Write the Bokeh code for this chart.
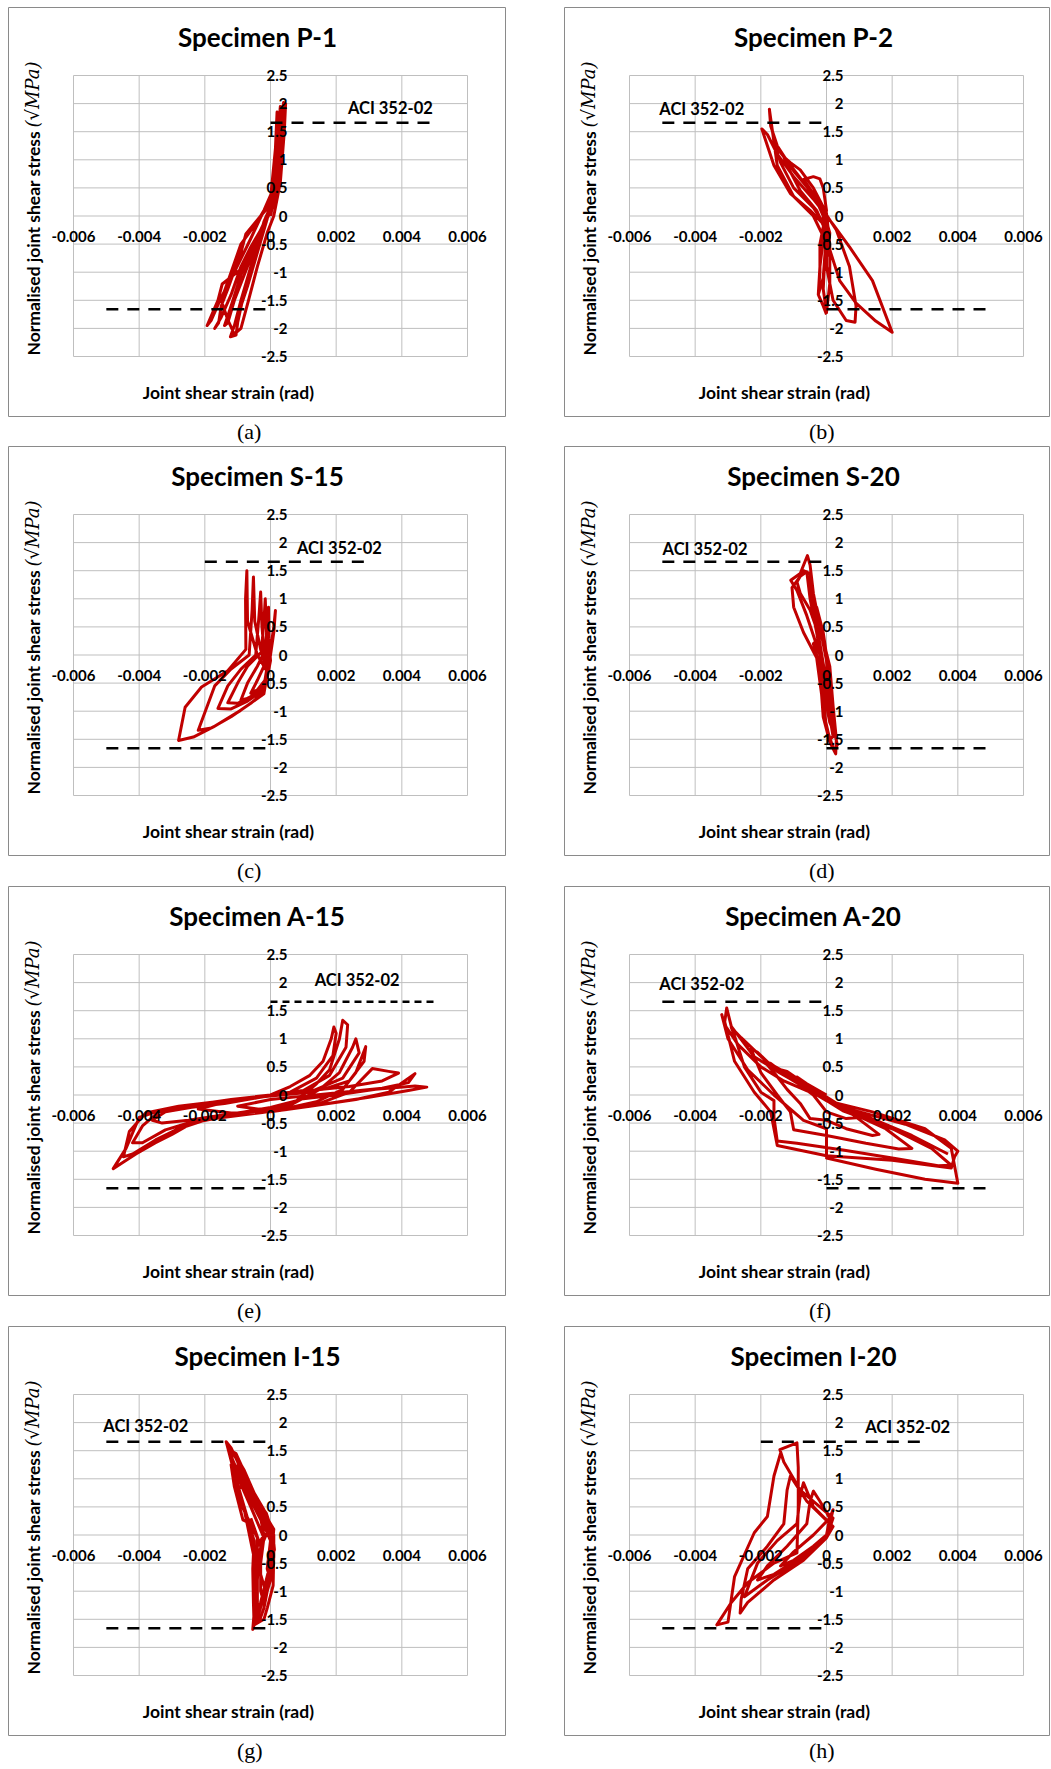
from bokeh.plotting import figure
from bokeh.models import FixedTicker, Label, Div, Spacer
from bokeh.layouts import row, column
from bokeh.embed import file_html
from bokeh.resources import INLINE

# ---------------- axis ticks ----------------
x_ticks = [-0.006, -0.004, -0.002, 0, 0.002, 0.004, 0.006]
x_tick_labels = ["-0.006", "-0.004", "-0.002", "0", "0.002", "0.004", "0.006"]
y_ticks = [-2.5, -2, -1.5, -1, -0.5, 0, 0.5, 1, 1.5, 2, 2.5]
y_tick_labels = ["-2.5", "-2", "-1.5", "-1", "-0.5", "0", "0.5", "1", "1.5", "2", "2.5"]

specimens = ["P-1", "P-2", "S-15", "S-20", "A-15", "A-20", "I-15", "I-20"]
captions = ["(a)", "(b)", "(c)", "(d)", "(e)", "(f)", "(g)", "(h)"]

aci_limit = 1.66          # ACI 352-02 normalised limit
aci_text = "ACI 352-02"
# extents [start, end] of the upper (+) and lower (-) ACI lines
aci_upper_x = [[0, 0.005], [-0.005, 0], [-0.002, 0.003], [-0.005, 0],
               [0, 0.005], [-0.005, 0], [-0.005, 0], [-0.002, 0.003]]
aci_lower_x = [[-0.005, 0], [0, 0.005], [-0.005, 0], [0, 0.005],
               [-0.005, 0], [0, 0.005], [-0.005, 0], [-0.005, 0]]
aci_label_x = [0.00365, -0.0038, 0.0021, -0.0037, 0.00264, -0.0038, -0.0038, 0.00247]
aci_label_y = [1.92, 1.90, 1.90, 1.88, 2.04, 1.97, 1.94, 1.93]

# ---------------- hysteresis data (strain rad, normalised stress) ----------------
p1_loops = [
    (0, 0), (0.00008, 0.45), (0.00012, 0.75), (0.00006, 0.4), (-0.0001, 0.0), (-0.00035, -0.55),
    (-0.0005, -0.85), (-0.0004, -0.6), (-0.0002, -0.15), (0.0, 0.15),
    (0.00012, 0.7), (0.0002, 1.2), (0.00024, 1.45), (0.00018, 1.05), (0.0001, 0.5), (-0.0001, -0.05),
    (-0.0004, -0.65), (-0.0007, -1.25), (-0.0009, -1.6), (-0.0008, -1.4), (-0.0006, -0.95),
    (-0.0003, -0.35), (0.0, 0.2),
    (0.00018, 1.0), (0.00025, 1.6), (0.0003, 1.95), (0.00032, 1.7), (0.00025, 1.1), (0.0001, 0.3),
    (-0.0003, -0.3), (-0.0006, -0.9), (-0.0009, -1.5), (-0.0011, -1.95), (-0.00122, -2.15),
    (-0.00105, -2.12), (-0.001, -1.9), (-0.0008, -1.35), (-0.0005, -0.75), (-0.0002, -0.1), (0.0001, 0.3),
    (0.0002, 1.1), (0.00035, 1.8), (0.0004, 2.02), (0.00045, 1.95), (0.0004, 1.5), (0.00032, 0.9),
    (0.0002, 0.3), (-0.0002, -0.15), (-0.0006, -0.55), (-0.0009, -0.9), (-0.0012, -1.4),
    (-0.0015, -1.8), (-0.0017, -2.0), (-0.00158, -1.9), (-0.0015, -1.6), (-0.0013, -1.3),
    (-0.0009, -0.65), (-0.00075, -0.32), (-0.0003, 0.0), (0.0, 0.2),
    (0.0002, 0.9), (0.0003, 1.6), (0.00035, 1.9), (0.00042, 1.85), (0.0003, 1.0), (0.0001, 0.2),
    (-0.0004, -0.4), (-0.0008, -0.9), (-0.00147, -1.21), (-0.0016, -1.5), (-0.00193, -1.95),
    (-0.0018, -1.85), (-0.0015, -1.45), (-0.0011, -1.0), (-0.0006, -0.4), (-0.0002, 0.1),
    (0.0001, 0.5), (0.00022, 1.3), (0.00028, 1.75), (0.00038, 1.9), (0.00036, 1.4), (0.00028, 0.8),
    (0.00015, 0.35), (-0.0001, 0.0), (-0.0005, -0.5), (-0.0009, -1.05), (-0.0012, -1.6), (-0.0014, -1.95),
    (-0.0013, -1.9), (-0.0011, -1.5), (-0.0007, -0.9), (-0.0004, -0.45), (0.0, 0.1),
    (0.0001, 0.3), (0.0002, 1.0), (0.0003, 1.7), (0.00046, 2.0), (0.00042, 1.5), (0.0003, 0.6),
    (0.0001, 0.0), (-0.0001, -0.3), (-0.0004, -0.9), (-0.00067, -1.5), (-0.0009, -2.0), (-0.0011, -2.1),
    (-0.0013, -1.85), (-0.0015, -1.5), (-0.0012, -1.0), (-0.0009, -0.5), (-0.0004, -0.1), (0.0, 0.3),
    (0.00015, 1.2), (0.0002, 1.85), (0.0003, 1.5), (0.00025, 0.7), (0.0, 0.0),
]

p2_loops = [
    (0, 0), (-0.0003, 0.3), (-0.0006, 0.55), (-0.0004, 0.4), (-0.0001, 0.1), (0.0001, -0.3),
    (0.00005, -0.7), (0.0, -0.4), (-0.0001, 0.0),
    (-0.0004, 0.4), (-0.0007, 0.65), (-0.0004, 0.7), (-0.0002, 0.66), (-0.0001, 0.5), (0.0, 0.1),
    (-0.0002, -0.5), (-0.0002, -1.0), (-0.00025, -1.4), (-0.0001, -1.1), (0.0, -0.3), (-0.0003, 0.1),
    (-0.0008, 0.45), (-0.0012, 0.9), (-0.0013, 1.05), (-0.0011, 0.95), (-0.0008, 0.82), (-0.0004, 0.5),
    (0.0, 0.05), (0.0001, -0.5), (0.0001, -1.2), (0.0, -1.72), (-0.0001, -1.3), (0.0, -0.2), (-0.0004, 0.15),
    (-0.001, 0.5), (-0.0014, 0.95), (-0.0016, 1.3), (-0.0015, 1.2), (-0.0012, 0.98), (-0.0007, 0.6),
    (-0.0002, 0.2), (0.0003, -0.25), (0.0007, -0.9), (0.0009, -1.6), (0.00087, -1.89), (0.0006, -1.86),
    (0.0002, -1.5), (0.0, -0.9), (0.0, -0.2), (-0.0005, 0.1),
    (-0.0011, 0.4), (-0.0016, 0.9), (-0.00197, 1.55), (-0.0018, 1.45), (-0.0015, 1.1), (-0.001, 0.7),
    (-0.0004, 0.3), (0.0002, -0.15), (0.0007, -0.55), (0.0014, -1.15), (0.002, -2.07), (0.0015, -1.87),
    (0.0009, -1.55), (0.0004, -1.15), (0.0001, -0.6), (-0.0004, 0.0),
    (-0.001, 0.35), (-0.0015, 0.9), (-0.00174, 1.9), (-0.0017, 1.6), (-0.0015, 1.25), (-0.001, 0.8),
    (-0.0005, 0.45), (0.0, 0.05), (-0.0002, -0.9), (-0.00025, -1.4), (-0.0001, -1.6), (0.0, -1.75),
]

s15_loops = [
    (0, 0), (0.0001, 0.4), (0.00015, 0.79), (0.0001, 0.5), (0.0, 0.1), (-0.0002, -0.2), (-0.0004, -0.45),
    (-0.0006, -0.68), (-0.0004, -0.62), (-0.0001, -0.4), (0.0, -0.1),
    (-0.00005, 0.3), (-0.00006, 0.85), (-0.0001, 0.6), (-0.00015, 0.1), (-0.0004, -0.2), (-0.0007, -0.5),
    (-0.0009, -0.8), (-0.0006, -0.76), (-0.0003, -0.62), (-0.0001, -0.35), (-0.0001, 0.0),
    (-0.00012, 0.4), (-0.00016, 1.0), (-0.0002, 0.6), (-0.00028, 0.05), (-0.0007, -0.2), (-0.001, -0.5),
    (-0.0013, -0.85), (-0.001, -0.86), (-0.0006, -0.74), (-0.0002, -0.56), (-0.0001, -0.2), (-0.0002, 0.1),
    (-0.00026, 0.5), (-0.0003, 1.12), (-0.00035, 0.7), (-0.00045, 0.0), (-0.0009, -0.25), (-0.0013, -0.55),
    (-0.0016, -0.95), (-0.0012, -0.96), (-0.0007, -0.82), (-0.0002, -0.62), (-0.0001, -0.3), (-0.0003, 0.1),
    (-0.00048, 0.6), (-0.00052, 1.39), (-0.00056, 0.8), (-0.00065, 0.0), (-0.0012, -0.25), (-0.0017, -0.55),
    (-0.0022, -1.34), (-0.0018, -1.3), (-0.0012, -1.1), (-0.0006, -0.86), (-0.0002, -0.66), (-0.0001, -0.3),
    (-0.0004, 0.0),
    (-0.0007, 0.6), (-0.00072, 1.5), (-0.00076, 1.0), (-0.00075, 0.1), (-0.0013, -0.28), (-0.0021, -0.57),
    (-0.0026, -0.93), (-0.0028, -1.52), (-0.00235, -1.46), (-0.00174, -1.28), (-0.00092, -0.99),
    (-0.0002, -0.69), (-0.0001, -0.34), (0.0, 0.0),
]

s20_loops = [
    (0, 0), (-0.0002, 0.5), (-0.0003, 0.85), (-0.0001, 0.4), (0.0, 0.0), (0.0001, -0.5), (0.00015, -0.9),
    (0.00005, -0.6), (0.0, -0.1),
    (-0.0002, 0.5), (-0.0004, 1.0), (-0.0005, 1.25), (-0.0004, 1.1), (-0.0002, 0.5), (0.0, -0.1),
    (0.0001, -0.7), (0.0002, -1.2), (0.00025, -1.4), (0.0001, -1.2), (-0.0001, -0.6), (-0.0002, 0.0),
    (-0.0006, 0.7), (-0.0009, 1.15), (-0.00109, 1.33), (-0.0008, 1.45), (-0.00058, 1.77), (-0.0005, 1.6),
    (-0.0004, 1.1), (-0.0002, 0.5), (0.0001, -0.2), (0.0002, -0.9), (0.0003, -1.5), (0.00028, -1.76),
    (0.0001, -1.55), (-0.0001, -1.1), (-0.00015, -0.7), (-0.0003, -0.05),
    (-0.0007, 0.4), (-0.001, 0.85), (-0.00105, 1.2), (-0.0008, 1.4), (-0.0006, 1.48), (-0.0005, 1.0),
    (-0.0003, 0.4), (-0.0001, -0.3), (0.0001, -1.0), (0.00033, -1.6), (0.00023, -1.7), (0.0, -1.3),
    (-0.0001, -0.8), (-0.0002, -0.2), (-0.0004, 0.2),
    (-0.0002, 0.3), (-0.0005, 0.8), (-0.0008, 1.1), (-0.0009, 1.3), (-0.0007, 1.5), (-0.0005, 1.45),
    (-0.0004, 0.9), (-0.0002, 0.2), (0.0, -0.5), (0.0001, -1.1), (0.0002, -1.45), (0.0001, -1.5),
    (-0.0001, -1.0), (-0.0002, -0.4),
]

a15_loops = [
    (0, 0), (0.0006, 0.15), (0.0012, 0.35), (0.0016, 0.6), (0.00185, 1.0), (0.00193, 1.21), (0.002, 1.1),
    (0.0019, 0.7), (0.0014, 0.3), (0.0006, 0.05), (-0.0004, -0.05), (-0.0014, -0.15), (-0.0024, -0.22),
    (-0.0032, -0.3), (-0.0036, -0.45), (-0.0033, -0.5), (-0.0025, -0.45), (-0.0017, -0.38),
    (-0.0008, -0.3), (0.0, -0.22), (0.0008, -0.1),
    (0.0014, 0.2), (0.0018, 0.45), (0.0021, 1.0), (0.0022, 1.33), (0.00235, 1.25), (0.0023, 0.85),
    (0.0018, 0.35), (0.001, 0.08), (0.0, 0.0), (-0.0012, -0.08), (-0.0024, -0.18), (-0.0034, -0.3),
    (-0.0039, -0.55), (-0.0042, -0.85), (-0.0039, -0.85), (-0.0032, -0.62), (-0.0024, -0.48),
    (-0.0014, -0.38), (-0.0004, -0.3), (0.0006, -0.18),
    (0.0015, 0.1), (0.0021, 0.4), (0.0025, 0.85), (0.0026, 1.0), (0.0027, 0.75), (0.0022, 0.3),
    (0.0012, 0.05), (0.0, -0.02), (-0.0014, -0.1), (-0.0028, -0.2), (-0.0038, -0.32), (-0.0043, -0.65),
    (-0.00448, -1.1), (-0.0042, -1.05), (-0.0035, -0.8), (-0.0028, -0.6), (-0.0019, -0.43),
    (-0.0008, -0.35), (0.0004, -0.25), (0.0014, -0.12),
    (0.0022, 0.1), (0.0026, 0.4), (0.0029, 0.86), (0.00285, 0.6), (0.0024, 0.25), (0.0016, 0.1),
    (0.0006, 0.05), (-0.0006, -0.05), (-0.002, -0.15), (-0.0033, -0.26), (-0.004, -0.4), (-0.0044, -0.95),
    (-0.00479, -1.31), (-0.0045, -1.2), (-0.0041, -1.05), (-0.0035, -0.85), (-0.003, -0.7),
    (-0.0024, -0.5), (-0.0017, -0.42), (-0.0005, -0.33), (0.0005, -0.26), (0.0015, -0.15),
    (0.0024, 0.05), (0.0031, 0.47), (0.0036, 0.42), (0.0039, 0.39), (0.0034, 0.25), (0.0024, 0.15),
    (0.0012, 0.08), (0.0, 0.0), (-0.0012, -0.1), (-0.0022, -0.25), (-0.0012, -0.32), (0.0, -0.3),
    (0.0012, -0.2), (0.0026, -0.08), (0.0036, 0.05), (0.0044, 0.38), (0.0042, 0.22), (0.0034, 0.12),
    (0.0022, 0.05), (0.001, -0.02), (0.0, -0.08), (-0.001, -0.2), (0.0, -0.28), (0.0014, -0.18),
    (0.003, -0.04), (0.0042, 0.08), (0.00476, 0.14), (0.0044, 0.16), (0.0032, 0.1), (0.002, 0.0),
    (0.0008, -0.08),
]

a20_loops = [
    (0, 0), (-0.0006, 0.2), (-0.0009, 0.32), (-0.0006, 0.18), (0.0, -0.05), (0.0006, -0.25), (0.001, -0.4),
    (0.0006, -0.42), (0.0, -0.3), (-0.0004, 0.0),
    (-0.0011, 0.3), (-0.0014, 0.45), (-0.0012, 0.42), (-0.0006, 0.18), (0.0, -0.1), (0.0008, -0.35),
    (0.0016, -0.7), (0.0014, -0.72), (0.0006, -0.6), (0.0, -0.45), (-0.0005, -0.42), (-0.0008, -0.15),
    (-0.0012, 0.1),
    (-0.0016, 0.4), (-0.0019, 0.6), (-0.0017, 0.56), (-0.0011, 0.3), (-0.0004, 0.05), (0.0005, -0.25),
    (0.0018, -0.6), (0.0026, -0.95), (0.0022, -0.96), (0.0012, -0.86), (0.0, -0.72), (-0.001, -0.62),
    (-0.0011, -0.3), (-0.0015, 0.0),
    (-0.002, 0.4), (-0.0023, 0.82), (-0.0021, 0.76), (-0.0015, 0.42), (-0.0006, 0.12), (0.0005, -0.28),
    (0.002, -0.6), (0.0032, -0.95), (0.0038, -1.25), (0.0034, -1.26), (0.002, -1.12), (0.0005, -0.98),
    (-0.0009, -0.86), (-0.0015, -0.82), (-0.0016, -0.4), (-0.0016, -0.1), (-0.002, 0.05),
    (-0.0025, 0.5), (-0.0028, 1.05), (-0.0029, 1.2), (-0.0026, 1.02), (-0.0018, 0.58), (-0.0007, 0.22),
    (0.0005, -0.22), (0.0024, -0.52), (0.0036, -0.8), (0.004, -1.0), (0.0039, -1.1), (0.0038, -1.3),
    (0.002, -1.16), (0.0, -1.08), (-0.0015, -0.9), (-0.0016, -0.6), (-0.0017, -0.3), (-0.0022, 0.05),
    (-0.0028, 0.6), (-0.0031, 1.3), (-0.00304, 1.55), (-0.0029, 1.22), (-0.0022, 0.68), (-0.0012, 0.32),
    (0.0, -0.1), (0.0014, -0.3), (0.003, -0.6), (0.0038, -0.95), (0.004, -1.57), (0.003, -1.5),
    (0.0015, -1.32), (0.0, -1.12), (0.0, -0.6), (-0.0007, -0.45),
    (-0.0016, 0.0), (-0.0024, 0.45), (-0.003, 1.0), (-0.00319, 1.43), (-0.0031, 1.25), (-0.0027, 0.9),
    (-0.002, 0.5), (-0.0013, 0.25), (-0.0005, 0.05), (0.0008, -0.28), (0.0026, -0.72), (0.0037, -1.05),
]

i15_loops = [
    (0, 0), (-0.0002, 0.3), (-0.0004, 0.6), (-0.0002, 0.4), (0.0001, 0.0), (0.0001, -0.4), (0.0, -0.8),
    (-0.0001, -0.6), (0.0, -0.1),
    (-0.0004, 0.45), (-0.0007, 0.9), (-0.0005, 0.75), (-0.0002, 0.35), (0.0001, 0.0), (0.0, -0.5),
    (-0.0001, -0.95), (-0.0002, -1.2), (-0.0003, -1.0), (-0.0003, -0.5), (-0.0002, -0.05),
    (-0.0006, 0.5), (-0.0009, 0.9), (-0.0011, 1.2), (-0.0009, 1.1), (-0.0006, 0.85), (-0.0002, 0.4),
    (0.0001, -0.05), (0.0, -0.6), (-0.0002, -1.1), (-0.0004, -1.4), (-0.0004, -1.1), (-0.00045, -0.5),
    (-0.0004, -0.05),
    (-0.0009, 0.55), (-0.0011, 1.1), (-0.00135, 1.66), (-0.0012, 1.55), (-0.0008, 1.05), (-0.0003, 0.5),
    (0.0001, 0.1), (0.0, -0.5), (-0.0003, -1.2), (-0.00054, -1.68), (-0.0005, -1.4), (-0.0005, -0.8),
    (-0.0004, -0.2), (-0.0002, 0.0),
    (-0.0003, 0.3), (-0.0006, 0.7), (-0.0009, 1.0), (-0.0012, 1.4), (-0.0013, 1.6), (-0.0011, 1.45),
    (-0.0008, 1.15), (-0.0005, 0.75), (-0.0002, 0.35), (0.0, 0.1), (0.0001, -0.2), (0.00005, -0.7),
    (-0.0001, -1.0), (-0.0002, -1.3), (-0.00035, -1.55), (-0.0004, -1.3), (-0.0004, -0.8),
    (-0.00035, -0.3), (-0.0001, 0.05),
    (-0.0005, 0.5), (-0.0008, 0.85), (-0.001, 1.3), (-0.0009, 1.25), (-0.0006, 0.8), (-0.0003, 0.45),
    (0.0, 0.2), (0.0001, -0.3), (0.00008, -0.9), (-0.0001, -1.3), (-0.0002, -1.5),
    (-0.0005, -1.6), (-0.00052, -1.2), (-0.00054, -0.6), (-0.0005, -0.1), (-0.0009, 0.7),
    (-0.0011, 1.1), (-0.0012, 1.5), (-0.00105, 1.45), (-0.0007, 1.0), (-0.0004, 0.6), (-0.00013, 0.39),
    (0.00007, 0.03), (0.00012, -0.26), (-0.00003, -0.5), (-0.00008, -0.91), (-0.00029, -1.27),
    (-0.00044, -1.56), (-0.00048, -1.1), (-0.0005, -0.4), (-0.0006, 0.2), (-0.00084, 0.27),
    (-0.0011, 0.86), (-0.0012, 1.25), (-0.0009, 1.2), (-0.0006, 0.85), (-0.0002, 0.45), (0.0001, 0.0),
    (0.00005, -0.6), (-0.0002, -1.1), (-0.0004, -1.45), (-0.00045, -1.0), (-0.0005, -0.4),
    (-0.0008, 0.45), (-0.001, 0.8), (-0.0008, 0.95), (-0.0004, 0.6), (-0.0001, 0.3), (0.0001, -0.2),
    (0.0, -0.7), (-0.00015, -1.0), (-0.0003, -0.7), (-0.0003, -0.2), (-0.0006, 0.3),
]

i20_loops = [
    (0, 0), (0.0001, 0.2), (0.0002, 0.45), (0.0001, 0.3), (-0.0004, 0.0), (-0.001, -0.3), (-0.0014, -0.55),
    (-0.001, -0.45), (-0.0004, -0.2), (0.0, 0.0),
    (0.0001, 0.3), (-0.0002, 0.6), (-0.0004, 0.78), (-0.0005, 0.6), (-0.0006, 0.2), (-0.0012, -0.2),
    (-0.0018, -0.55), (-0.0021, -0.8), (-0.0016, -0.7), (-0.0008, -0.4), (0.0, -0.05), (0.0002, 0.15),
    (-0.0004, 0.5), (-0.0007, 0.93), (-0.0008, 0.7), (-0.0009, 0.2), (-0.0015, -0.1), (-0.0021, -0.5),
    (-0.0024, -0.95), (-0.0025, -1.1), (-0.0018, -0.8), (-0.0008, -0.45), (0.0, 0.0), (0.0001, 0.2),
    (-0.0006, 0.6), (-0.0011, 1.05), (-0.0012, 0.8), (-0.0013, 0.2), (-0.0018, -0.2), (-0.0024, -0.6),
    (-0.0026, -1.15), (-0.00263, -1.39), (-0.0024, -1.2), (-0.0016, -0.8), (-0.0007, -0.45),
    (0.0, -0.05), (0.0002, 0.3),
    (-0.0008, 0.8), (-0.0013, 1.3), (-0.00142, 1.52), (-0.0009, 1.64), (-0.00086, 1.2), (-0.00086, 0.5),
    (-0.0009, -0.32), (-0.0016, -0.5), (-0.0024, -0.85), (-0.0029, -1.2), (-0.00334, -1.6),
    (-0.003, -1.55), (-0.0028, -0.74), (-0.0022, 0.04), (-0.0018, 0.33), (-0.0016, 1.05), (-0.0014, 1.45),
]

all_loops = [p1_loops, p2_loops, s15_loops, s20_loops, a15_loops, a20_loops, i15_loops, i20_loops]
aci_upper_dash = ["12 9", "12 9", "12 9", "12 9", "7 5", "12 9", "12 9", "12 9"]

# ---------------- styling / layout ----------------
FONT = "Lato"
RED = "#c00000"
GRID = "#bfbfbf"
FRAME_W, FRAME_H = 394, 281            # pixel size of the data area
B_LEFT, B_TOP, B_BOTTOM = 65, 68, 61   # data area offsets inside each panel box
FIG_H = B_TOP + FRAME_H + B_BOTTOM
X_MIN, X_MAX = x_ticks[0], x_ticks[-1]
Y_MIN, Y_MAX = y_ticks[0], y_ticks[-1]


def make_panel(i, fig_w):
    # the whole panel box is the plotting frame; ranges are widened so the data area
    # (-0.006..0.006, -2.5..2.5) lands at the panel's inner rectangle
    xpp = (X_MAX - X_MIN) / FRAME_W
    ypp = (Y_MAX - Y_MIN) / FRAME_H
    x_range = (X_MIN - B_LEFT * xpp, X_MAX + (fig_w - B_LEFT - FRAME_W) * xpp)
    y_range = (Y_MIN - B_BOTTOM * ypp, Y_MAX + B_TOP * ypp)
    p = figure(width=fig_w, height=FIG_H, x_range=x_range, y_range=y_range,
               output_backend="svg", toolbar_location=None,
               min_border_left=0, min_border_right=0, min_border_top=0, min_border_bottom=0,
               background_fill_color="white", border_fill_color="white")
    p.outline_line_color = "#8a8a8a"
    p.outline_line_width = 1
    p.grid.visible = False

    # grid of the data area
    p.segment(x0=x_ticks, y0=[Y_MIN] * len(x_ticks), x1=x_ticks, y1=[Y_MAX] * len(x_ticks),
              line_color=GRID, line_width=1)
    p.segment(x0=[X_MIN] * len(y_ticks), y0=y_ticks, x1=[X_MAX] * len(y_ticks), y1=y_ticks,
              line_color=GRID, line_width=1)

    for ax in (p.xaxis[0], p.yaxis[0]):
        ax.fixed_location = 0
        ax.axis_line_color = None
        ax.major_tick_line_color = None
        ax.minor_tick_line_color = None
        ax.major_tick_out = 0
        ax.major_tick_in = 0
        ax.major_label_text_font = FONT
        ax.major_label_text_font_style = "bold"
        ax.major_label_text_font_size = "15px"
        ax.major_label_text_color = "black"
    p.xaxis.ticker = FixedTicker(ticks=x_ticks)
    p.xaxis.major_label_overrides = {t: s for t, s in zip(x_ticks, x_tick_labels)}
    p.xaxis.major_label_standoff = 15
    p.yaxis.ticker = FixedTicker(ticks=y_ticks)
    p.yaxis.major_label_overrides = {t: s for t, s in zip(y_ticks, y_tick_labels)}
    p.yaxis.major_label_standoff = -17

    xs = [pt[0] for pt in all_loops[i]]
    ys = [pt[1] for pt in all_loops[i]]
    p.line(xs, ys, line_color=RED, line_width=3.0, line_join="round")

    p.line(aci_upper_x[i], [aci_limit, aci_limit], line_color="black", line_width=2.5,
           line_dash=aci_upper_dash[i])
    p.line(aci_lower_x[i], [-aci_limit, -aci_limit], line_color="black", line_width=2.5,
           line_dash="12 9")
    p.add_layout(Label(x=aci_label_x[i], y=aci_label_y[i], text=aci_text, text_align="center",
                       text_baseline="middle", text_font=FONT, text_font_style="bold",
                       text_font_size="16.5px", text_color="black"))

    # panel texts (screen units: from panel left / panel bottom)
    p.add_layout(Label(x=249, y=FIG_H - 29, x_units="screen", y_units="screen",
                       text="Specimen " + specimens[i], text_align="center", text_baseline="middle",
                       text_font=FONT, text_font_style="bold", text_font_size="26px",
                       text_color="black"))
    p.add_layout(Label(x=220, y=FIG_H - 385, x_units="screen", y_units="screen",
                       text="Joint shear strain (rad)", text_align="center", text_baseline="middle",
                       text_font=FONT, text_font_style="bold", text_font_size="17.5px",
                       text_color="black"))
    p.add_layout(Label(x=25, y=FIG_H - 348, x_units="screen", y_units="screen", angle=1.5708,
                       text="Normalised joint shear stress", text_align="left", text_baseline="middle",
                       text_font=FONT, text_font_style="bold", text_font_size="17.5px",
                       text_color="black"))
    p.add_layout(Label(x=24, y=FIG_H - 348 + 228, x_units="screen", y_units="screen", angle=1.5708,
                       text="(\u221aMPa)", text_align="left", text_baseline="middle",
                       text_font="DejaVu Serif", text_font_style="italic",
                       text_font_size="18px", text_color="black"))
    return p


def make_caption(i, w, h, ml):
    return Div(text='<span style="display:inline-block;margin-left:%dpx;margin-top:3px">%s</span>'
                    % (ml, captions[i]),
               width=w, height=h, margin=0,
               styles={"font-family": "Liberation Serif", "font-size": "22px", "line-height": "24px",
                       "color": "black"})


LEFT_W, RIGHT_W, GAP, LEFT_PAD, TOP_PAD = 498, 486, 58, 8, 7
cap_heights = [29, 30, 30, 30]
rows = [Spacer(height=TOP_PAD)]
for r in range(4):
    li, ri = 2 * r, 2 * r + 1
    left = column(make_panel(li, LEFT_W), make_caption(li, LEFT_W, cap_heights[r], 229))
    right = column(make_panel(ri, RIGHT_W), make_caption(ri, RIGHT_W, cap_heights[r], 245))
    rows.append(row(Spacer(width=LEFT_PAD), left, Spacer(width=GAP), right))

layout = column(*rows)
open("out.html", "w").write(file_html(layout, INLINE))
